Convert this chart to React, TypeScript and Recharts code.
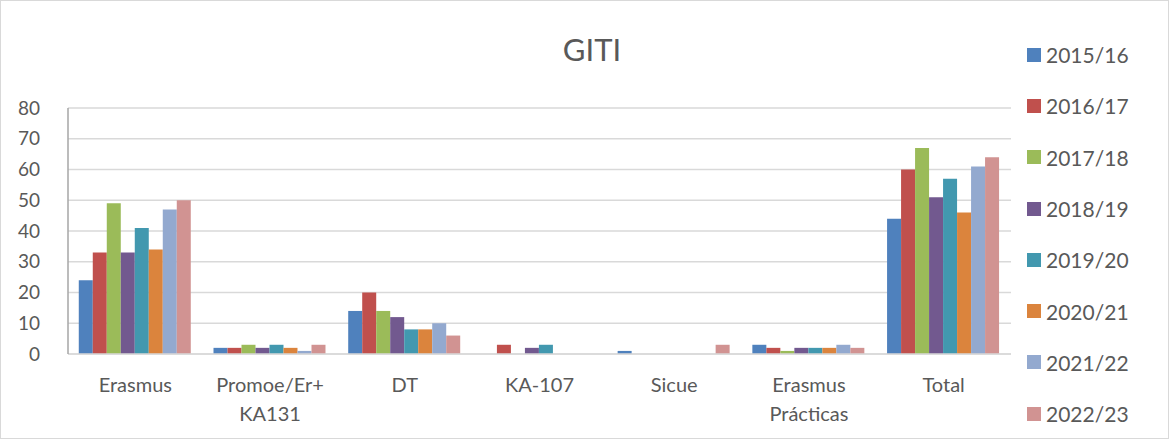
import React from 'react';
import { BarChart, Bar, XAxis, YAxis, CartesianGrid } from 'recharts';

const categories = ['Erasmus', 'Promoe/Er+ KA131', 'DT', 'KA-107', 'Sicue', 'Erasmus Prácticas', 'Total'];
const seriesNames = ['2015/16', '2016/17', '2017/18', '2018/19', '2019/20', '2020/21', '2021/22', '2022/23'];

const y2015 = [24, 2, 14, 0, 1, 3, 44];
const y2016 = [33, 2, 20, 3, 0, 2, 60];
const y2017 = [49, 3, 14, 0, 0, 1, 67];
const y2018 = [33, 2, 12, 2, 0, 2, 51];
const y2019 = [41, 3, 8, 3, 0, 2, 57];
const y2020 = [34, 2, 8, 0, 0, 2, 46];
const y2021 = [47, 1, 10, 0, 0, 3, 61];
const y2022 = [50, 3, 6, 0, 3, 2, 64];

const yTicks = [0, 10, 20, 30, 40, 50, 60, 70, 80];

const COLORS = ['#4F81BD', '#C0504D', '#9BBB59', '#72598F', '#4298AF', '#DB843D', '#93A9CF', '#D19392'];

const allSeries = [y2015, y2016, y2017, y2018, y2019, y2020, y2021, y2022];

const data = categories.map((name, i) => {
  const row: Record<string, string | number> = { name };
  seriesNames.forEach((s, j) => {
    row[s] = allSeries[j][i];
  });
  return row;
});

const FONT = 'Lato, "Liberation Sans", sans-serif';

// two-line category labels, split on the space
const CategoryTick = ({ x, y, payload }: { x?: number; y?: number; payload?: { value: string } }) => {
  const lines = (payload?.value ?? '').split(' ');
  return (
    <text x={x} y={y} textAnchor="middle" fill="#595959" fontSize={20} fontFamily={FONT}>
      {lines.map((l, i) => (
        <tspan key={i} x={x} dy={i === 0 ? 38 : 29}>{l}</tspan>
      ))}
    </text>
  );
};

const LegendList = () => (
  <div style={{ position: 'absolute', left: 1027, top: 29, fontFamily: FONT, fontSize: 21, color: '#595959' }}>
    {seriesNames.map((s, i) => (
      <div key={s} style={{ display: 'flex', alignItems: 'center', height: 51.3 }}>
        <span style={{ width: 14, height: 14, background: COLORS[i], marginRight: 5, display: 'inline-block' }} />
        <span>{s}</span>
      </div>
    ))}
  </div>
);

export default function App() {
  return (
    <div style={{ position: 'absolute', left: 0, top: 0, width: 1169, height: 439, background: '#fff' }}>
      <div
        style={{
          position: 'absolute', left: 0, top: 0, width: 1169, height: 439,
          boxSizing: 'border-box', border: '1px solid #d9d9d9', pointerEvents: 'none', zIndex: 2,
        }}
      />
      <div
        style={{
          position: 'absolute', left: 492, width: 200, top: 29, textAlign: 'center',
          fontFamily: FONT, fontSize: 31, color: '#595959', lineHeight: '40px',
        }}
      >
        GITI
      </div>
      <BarChart
        width={1169}
        height={439}
        data={data}
        margin={{ top: 108, right: 158, bottom: 55, left: 0 }}
        barCategoryGap="8%"
        barGap={0}
      >
        <CartesianGrid vertical={false} stroke="#d9d9d9" strokeWidth={1.5} />
        <XAxis
          dataKey="name"
          height={30}
          tick={<CategoryTick />}
          tickLine={false}
          tickSize={0}
          tickMargin={0}
          axisLine={{ stroke: '#d9d9d9', strokeWidth: 1.5 }}
          interval={0}
        />
        <YAxis
          domain={[0, 80]}
          ticks={yTicks}
          width={68}
          tickLine={false}
          axisLine={{ stroke: '#a6a6a6', strokeWidth: 1.5 }}
          tick={{ fill: '#595959', fontSize: 19, fontFamily: FONT }}
          tickMargin={22}
          interval={0}
        />
        {seriesNames.map((s, i) => (
          <Bar key={s} dataKey={s} fill={COLORS[i]} isAnimationActive={false} />
        ))}
      </BarChart>
      <LegendList />
    </div>
  );
}
